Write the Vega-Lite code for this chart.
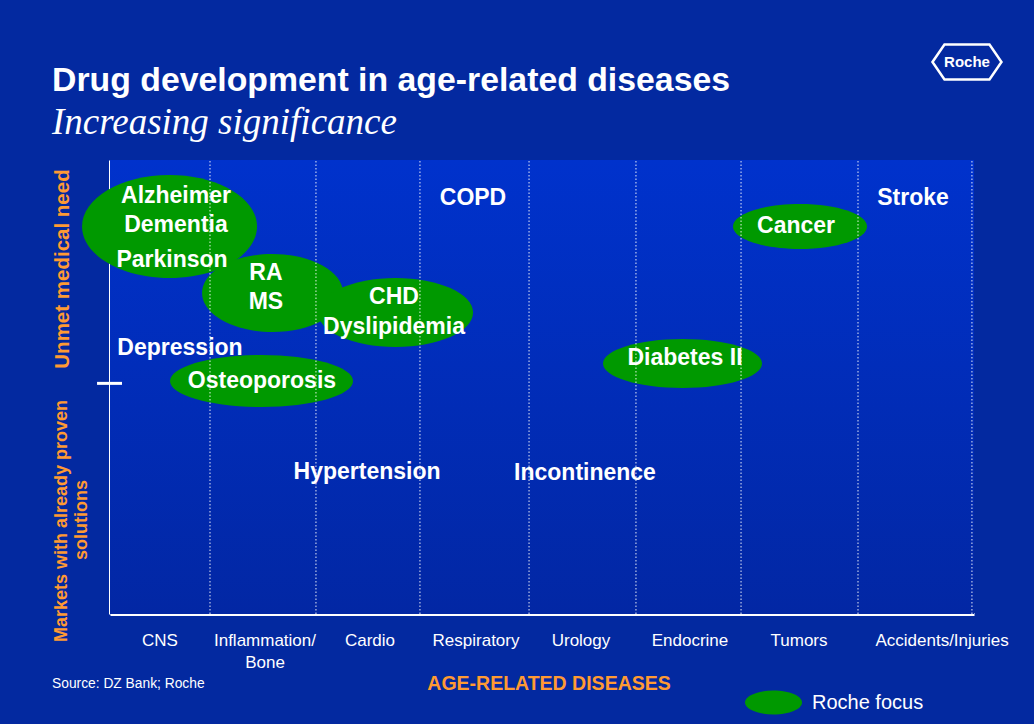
{
  "$schema": "https://vega.github.io/schema/vega-lite/v6.json",
  "width": 864,
  "height": 454,
  "autosize": {"type": "none"},
  "padding": {"left": 110, "top": 160, "right": 60, "bottom": 110},
  "background": "#0329a0",
  "title": {
    "text": "Drug development in age-related diseases",
    "subtitle": "Increasing significance",
    "anchor": "start",
    "frame": "group",
    "dx": -58,
    "offset": -102,
    "color": "white",
    "font": "Liberation Sans",
    "fontSize": 33.8,
    "fontWeight": "bold",
    "subtitleColor": "white",
    "subtitleFont": "Liberation Serif",
    "subtitleFontStyle": "italic",
    "subtitleFontSize": 37,
    "subtitlePadding": 8
  },
  "config": {
    "view": {"stroke": null},
    "axisX": {"domainColor": "white", "domainWidth": 3, "ticks": false, "labels": false, "grid": false, "zindex": 1},
    "axisY": {"domainColor": "white", "domainWidth": 3, "ticks": false, "labels": false, "grid": false, "zindex": 1}
  },
  "datasets": {
    "bubbles": [
      {"group": "Alzheimer/Dementia/Parkinson", "x": 0.551, "y": 8.535},
      {"group": "RA/MS", "x": 1.505, "y": 7.07},
      {"group": "CHD/Dyslipidemia", "x": 2.644, "y": 6.641},
      {"group": "Osteoporosis", "x": 1.403, "y": 5.132},
      {"group": "Cancer", "x": 6.389, "y": 8.535},
      {"group": "Diabetes II", "x": 5.301, "y": 5.518}
    ],
    "diseases": [
      {"disease": "Alzheimer", "x": 0.611, "y": 9.207},
      {"disease": "Dementia", "x": 0.611, "y": 8.568},
      {"disease": "Parkinson", "x": 0.574, "y": 7.797},
      {"disease": "RA", "x": 1.444, "y": 7.511},
      {"disease": "MS", "x": 1.444, "y": 6.872},
      {"disease": "CHD", "x": 2.63, "y": 6.982},
      {"disease": "Dyslipidemia", "x": 2.63, "y": 6.322},
      {"disease": "COPD", "x": 3.361, "y": 9.163},
      {"disease": "Stroke", "x": 7.435, "y": 9.163},
      {"disease": "Cancer", "x": 6.352, "y": 8.546},
      {"disease": "Depression", "x": 0.648, "y": 5.859},
      {"disease": "Osteoporosis", "x": 1.407, "y": 5.132},
      {"disease": "Diabetes II", "x": 5.324, "y": 5.639},
      {"disease": "Hypertension", "x": 2.38, "y": 3.128},
      {"disease": "Incontinence", "x": 4.398, "y": 3.106}
    ],
    "boundaries": [
      {"x": 0.926}, {"x": 1.907}, {"x": 2.87}, {"x": 3.88},
      {"x": 4.87}, {"x": 5.843}, {"x": 6.926}, {"x": 7.981}
    ],
    "categories": [
      {"category": "CNS", "x": 0.463, "y": -0.595},
      {"category": "Inflammation/", "x": 1.435, "y": -0.595},
      {"category": "Bone", "x": 1.435, "y": -1.079},
      {"category": "Cardio", "x": 2.407, "y": -0.595},
      {"category": "Respiratory", "x": 3.389, "y": -0.595},
      {"category": "Urology", "x": 4.361, "y": -0.595},
      {"category": "Endocrine", "x": 5.37, "y": -0.595},
      {"category": "Tumors", "x": 6.38, "y": -0.595},
      {"category": "Accidents/Injuries", "x": 7.704, "y": -0.595}
    ]
  },
  "layer": [
    {
      "data": {"values": [{}]},
      "mark": {
        "type": "rect",
        "color": {
          "gradient": "linear", "x1": 0, "y1": 0, "x2": 0, "y2": 1,
          "stops": [{"offset": 0, "color": "#0032cc"}, {"offset": 1, "color": "#0227a4"}]
        }
      },
      "encoding": {
        "x": {"datum": 0, "type": "quantitative", "title": null, "scale": {"domain": [0, 8], "nice": false, "zero": false}},
        "x2": {"datum": 8},
        "y": {"datum": 0, "type": "quantitative", "title": null, "scale": {"domain": [0, 10], "nice": false, "zero": false}},
        "y2": {"datum": 10}
      }
    },
    {
      "data": {"name": "bubbles"},
      "mark": {"type": "point", "filled": true, "size": 4, "opacity": 1, "strokeWidth": 0},
      "encoding": {
        "x": {"field": "x", "type": "quantitative", "title": null},
        "y": {"field": "y", "type": "quantitative", "title": null},
        "shape": {
          "field": "group", "type": "nominal", "legend": null,
          "scale": {
            "domain": ["Alzheimer/Dementia/Parkinson", "RA/MS", "CHD/Dyslipidemia", "Osteoporosis", "Cancer", "Diabetes II"],
            "range": [
              "M -87.5 0 A 87.5 51.5 0 1 0 87.5 0 A 87.5 51.5 0 1 0 -87.5 0 Z",
              "M -70.5 0 A 70.5 39 0 1 0 70.5 0 A 70.5 39 0 1 0 -70.5 0 Z",
              "M -77.5 0 A 77.5 34.5 0 1 0 77.5 0 A 77.5 34.5 0 1 0 -77.5 0 Z",
              "M -91.5 0 A 91.5 26 0 1 0 91.5 0 A 91.5 26 0 1 0 -91.5 0 Z",
              "M -67 0 A 67 22.5 0 1 0 67 0 A 67 22.5 0 1 0 -67 0 Z",
              "M -79.5 0 A 79.5 24.5 0 1 0 79.5 0 A 79.5 24.5 0 1 0 -79.5 0 Z"
            ]
          }
        },
        "color": {
          "datum": "Roche focus", "type": "nominal",
          "scale": {"range": ["#009900"]},
          "legend": {
            "orient": "none", "legendX": 635, "legendY": 514, "title": null, "padding": 0,
            "symbolType": "M -1 0 A 1 0.42 0 1 0 1 0 A 1 0.42 0 1 0 -1 0 Z",
            "symbolSize": 3249, "symbolStrokeWidth": 0, "symbolOpacity": 1,
            "labelColor": "white", "labelFont": "Liberation Sans", "labelFontSize": 20, "labelOffset": 10
          }
        }
      }
    },
    {
      "data": {"name": "boundaries"},
      "mark": {"type": "rule", "color": "white", "strokeWidth": 1, "strokeDash": [1.5, 2], "opacity": 0.9},
      "encoding": {
        "x": {"field": "x", "type": "quantitative", "title": null},
        "y": {"datum": 0, "type": "quantitative", "title": null},
        "y2": {"datum": 10}
      }
    },
    {
      "data": {"values": [{"divide": 5.08}]},
      "mark": {"type": "rule", "color": "white", "strokeWidth": 3},
      "encoding": {
        "x": {"datum": -0.12, "type": "quantitative", "title": null},
        "x2": {"datum": 0.111},
        "y": {"field": "divide", "type": "quantitative", "title": null}
      }
    },
    {
      "data": {"name": "diseases"},
      "mark": {"type": "text", "color": "white", "font": "Liberation Sans", "fontWeight": "bold", "fontSize": 23, "align": "center", "baseline": "middle"},
      "encoding": {
        "x": {"field": "x", "type": "quantitative", "title": null},
        "y": {"field": "y", "type": "quantitative", "title": null},
        "text": {"field": "disease"}
      }
    },
    {
      "data": {"name": "categories"},
      "mark": {"type": "text", "color": "white", "font": "Liberation Sans", "fontSize": 17, "align": "center", "baseline": "middle"},
      "encoding": {
        "x": {"field": "x", "type": "quantitative", "title": null},
        "y": {"field": "y", "type": "quantitative", "title": null},
        "text": {"field": "category"}
      }
    },
    {
      "data": {"values": [{"note": "AGE-RELATED DISEASES", "x": 4.065, "y": -1.542}]},
      "mark": {"type": "text", "color": "#ff9a33", "font": "Liberation Sans", "fontWeight": "bold", "fontSize": 19.5, "align": "center", "baseline": "middle"},
      "encoding": {
        "x": {"field": "x", "type": "quantitative", "title": null},
        "y": {"field": "y", "type": "quantitative", "title": null},
        "text": {"field": "note"}
      }
    },
    {
      "data": {"values": [{"note": "Unmet medical need", "x": -0.435, "y": 7.599}]},
      "mark": {"type": "text", "color": "#ff9a33", "font": "Liberation Sans", "fontWeight": "bold", "fontSize": 20.5, "angle": 270, "align": "center", "baseline": "middle"},
      "encoding": {
        "x": {"field": "x", "type": "quantitative", "title": null},
        "y": {"field": "y", "type": "quantitative", "title": null},
        "text": {"field": "note"}
      }
    },
    {
      "data": {"values": [
        {"note": "Markets with already proven", "x": -0.444, "y": 2.048},
        {"note": "solutions", "x": -0.259, "y": 2.07}
      ]},
      "mark": {"type": "text", "color": "#ff9a33", "font": "Liberation Sans", "fontWeight": "bold", "fontSize": 18, "angle": 270, "align": "center", "baseline": "middle"},
      "encoding": {
        "x": {"field": "x", "type": "quantitative", "title": null},
        "y": {"field": "y", "type": "quantitative", "title": null},
        "text": {"field": "note"}
      }
    },
    {
      "data": {"values": [{"note": "Source: DZ Bank; Roche", "x": -0.537, "y": -1.542}]},
      "mark": {"type": "text", "color": "white", "font": "Liberation Sans", "fontSize": 13.8, "align": "left", "baseline": "middle"},
      "encoding": {
        "x": {"field": "x", "type": "quantitative", "title": null},
        "y": {"field": "y", "type": "quantitative", "title": null},
        "text": {"field": "note"}
      }
    },
    {
      "data": {"values": [{"logo": "Roche", "x": 7.935, "y": 12.159}]},
      "mark": {"type": "point", "filled": false, "size": 4, "stroke": "white", "strokeWidth": 2.5, "opacity": 1,
        "shape": "M -34.5 0 L -22.5 -17.5 L 22.5 -17.5 L 34.5 0 L 22.5 17.5 L -22.5 17.5 Z"},
      "encoding": {
        "x": {"field": "x", "type": "quantitative", "title": null},
        "y": {"field": "y", "type": "quantitative", "title": null}
      }
    },
    {
      "data": {"values": [{"logo": "Roche", "x": 7.935, "y": 12.159}]},
      "mark": {"type": "text", "color": "white", "font": "Liberation Sans", "fontWeight": "bold", "fontSize": 15, "align": "center", "baseline": "middle"},
      "encoding": {
        "x": {"field": "x", "type": "quantitative", "title": null},
        "y": {"field": "y", "type": "quantitative", "title": null},
        "text": {"field": "logo"}
      }
    }
  ]
}
